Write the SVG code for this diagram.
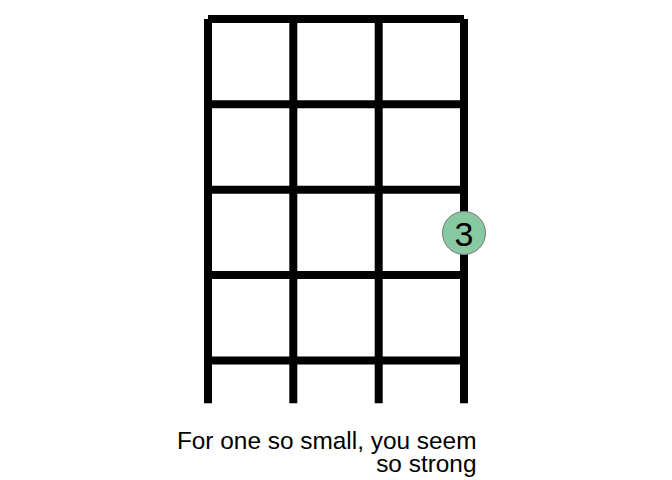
<svg xmlns="http://www.w3.org/2000/svg" width="672" height="480" viewBox="0 0 672 480">
<style>
.str{stroke:#000;stroke-width:8;stroke-linecap:butt;fill:none}
.lbl{font-family:"Liberation Sans",Arial,sans-serif;font-size:24.4px;fill:#000}
.num{font-family:"Liberation Sans",Arial,sans-serif;font-size:34px;fill:#000}
.fing{fill:#88c9a1;stroke:#777;stroke-width:1}
</style>
<rect width="672" height="480" fill="#fff"/>
<g id="fretboard">
<line class="str" x1="208" y1="19" x2="464" y2="19"/>
<line class="str" x1="208" y1="104.3" x2="464" y2="104.3"/>
<line class="str" x1="208" y1="189.7" x2="464" y2="189.7"/>
<line class="str" x1="208" y1="275" x2="464" y2="275"/>
<line class="str" x1="208" y1="360.5" x2="464" y2="360.5"/>
<line class="str" x1="208" y1="19" x2="208" y2="403.3"/>
<line class="str" x1="293.3" y1="19" x2="293.3" y2="403.3"/>
<line class="str" x1="378.7" y1="19" x2="378.7" y2="403.3"/>
<line class="str" x1="464" y1="19" x2="464" y2="403.3"/>
</g>
<g id="finger3">
<circle class="fing" cx="464" cy="233" r="21.5"/>
<text class="num" x="464" y="245.5" text-anchor="middle">3</text>
</g>
<g id="caption">
<text class="lbl" x="476.5" y="449" text-anchor="end">For one so small, you seem</text>
<text class="lbl" x="476.5" y="472" text-anchor="end">so strong</text>
</g>
</svg>
